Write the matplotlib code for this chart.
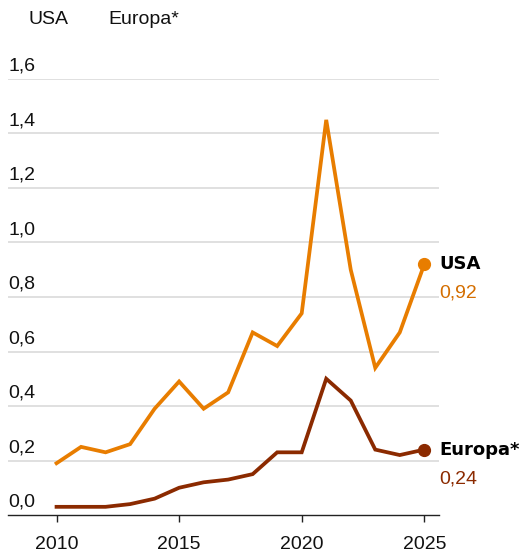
import matplotlib.pyplot as plt

years = list(range(2010, 2026))
usa = [0.19, 0.25, 0.23, 0.26, 0.39, 0.49, 0.39, 0.45, 0.67, 0.62, 0.74, 1.45, 0.90, 0.54, 0.67, 0.92]
europa = [0.03, 0.03, 0.03, 0.04, 0.06, 0.10, 0.12, 0.13, 0.15, 0.23, 0.23, 0.50, 0.42, 0.24, 0.22, 0.24]
yticks = [0.0, 0.2, 0.4, 0.6, 0.8, 1.0, 1.2, 1.4, 1.6]
xticks = [2010, 2015, 2020, 2025]

usa_color = "#E87D00"
eu_color = "#8B2A00"

plt.rcParams["font.family"] = ["Liberation Sans", "DejaVu Sans"]

fig = plt.figure(figsize=(5.23, 5.53), dpi=100)
ax = fig.add_axes([8 / 523, 38 / 553, 431 / 523, 436 / 553])

ax.plot(years, usa, color=usa_color, lw=2.7, solid_joinstyle="miter", zorder=3)
ax.plot(years, europa, color=eu_color, lw=2.7, solid_joinstyle="miter", zorder=3)
ax.plot(years[-1], usa[-1], "o", color=usa_color, ms=8.5, zorder=4)
ax.plot(years[-1], europa[-1], "o", color=eu_color, ms=8.5, zorder=4)

ax.set_xlim(2008.02, 2025.6)
ax.set_ylim(0, 1.6)

# horizontal grid, labels above lines
for v in yticks:
    if v > 0:
        ax.axhline(v, color="#e0e0e0", lw=1.4, zorder=1)
    ax.annotate(f"{v:.1f}".replace(".", ","), xy=(0, v), xycoords=("axes fraction", "data"),
                xytext=(0, 3), textcoords="offset points", ha="left", va="bottom",
                fontsize=14, color="#111111")

for s in ["top", "right", "left"]:
    ax.spines[s].set_visible(False)
ax.spines["bottom"].set_color("#222222")
ax.spines["bottom"].set_linewidth(1.0)
ax.set_yticks([])
ax.set_xticks(xticks)
ax.set_xticklabels([str(x) for x in xticks], fontsize=14, color="#111111")
ax.tick_params(axis="x", length=5, width=1, color="#222222", pad=10)

# end labels
ax.annotate("USA", xy=(years[-1], usa[-1]), xytext=(11, 0), textcoords="offset points",
            ha="left", va="center", fontsize=13, fontweight="bold", family="DejaVu Sans", color="black")
ax.annotate(f"{usa[-1]:.2f}".replace(".", ","), xy=(years[-1], usa[-1]), xytext=(11, -21),
            textcoords="offset points", ha="left", va="center", fontsize=14, color="#D46E00")
ax.annotate("Europa*", xy=(years[-1], europa[-1]), xytext=(11, 0), textcoords="offset points",
            ha="left", va="center", fontsize=13, fontweight="bold", family="DejaVu Sans", color="black")
ax.annotate(f"{europa[-1]:.2f}".replace(".", ","), xy=(years[-1], europa[-1]), xytext=(11, -21),
            textcoords="offset points", ha="left", va="center", fontsize=14, color=eu_color)

# legend text at top
fig.text(28 / 523, 1 - 20 / 553, "USA", ha="left", va="center", fontsize=14, color="#111111")
fig.text(108 / 523, 1 - 20 / 553, "Europa*", ha="left", va="center", fontsize=14, color="#111111")

fig.savefig("out.png", dpi=100)
